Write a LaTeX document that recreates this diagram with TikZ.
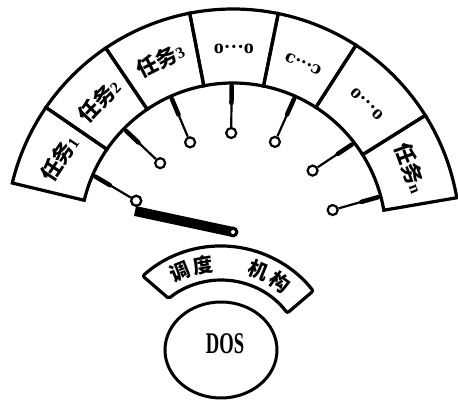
\documentclass[tikz,border=0pt]{standalone}
\usepackage{fontspec}
\setmainfont{Liberation Serif}
\newfontfamily\cjk{Noto Sans CJK SC}
\newfontfamily\dvs{DejaVu Serif}
\usetikzlibrary{calc,shapes.geometric}
\tikzset{
  boxline/.style={line width=3.2pt, line join=miter},
  wire/.style={line width=2.2pt},
  wirethick/.style={line width=4.5pt, line cap=round},
  contact/.style={circle, draw, line width=2.2pt, fill=white, minimum size=10pt, inner sep=0pt},
  tasklabel/.style={font=\fontsize{21}{21}\selectfont\cjk\bfseries, inner sep=0pt},
  dotlabel/.style={font=\fontsize{20}{20}\selectfont\bfseries, inner sep=0pt},
  bandlabel/.style={font=\fontsize{20}{20}\selectfont\cjk\bfseries, inner sep=0pt},
}
\newcommand{\tnum}[1]{{\fontsize{16}{16}\selectfont\rmfamily\bfseries #1}}
\begin{document}
\begin{tikzpicture}[x=1pt,y=1pt]
\useasboundingbox (0,0) rectangle (458,401);
\fill[white] (0,0) rectangle (458,401);
% ---------- upper task band ----------
\begin{scope}[shift={(233,165)}]
  \foreach \a/\b in {166.5/145.5, 145.5/124.1, 124.1/101, 101/78.5, 78.5/57.2, 57.2/32.1, 32.1/9.7}
    \draw[boxline] (\a:153) -- (\a:227) arc[start angle=\a, end angle=\b, radius=227]
      -- (\b:153) arc[start angle=\b, end angle=\a, radius=153] -- cycle;
  % labels
  \node[tasklabel, rotate=56] (t1) at (156:190) {任务\tnum{1}};
  \node[tasklabel, rotate=46] (t2) at (134.8:190) {任务\tnum{2}};
  \node[tasklabel, rotate=27] (t3) at (112.5:190) {任务\tnum{3}};
  \node[dotlabel, rotate=0] (t4) at (89.7:187) {o···o};
  \node[dotlabel, rotate=-23, font=\fontsize{17}{17}\selectfont\dvs\bfseries] (t5) at (67.8:186) {c···ɔ};
  \node[dotlabel, rotate=-44] (t6) at (44.7:188) {o···o};
  \node[tasklabel, rotate=-70] (tn) at (21:190) {任务\tnum{n}};
  % wire ends on the inner arc
  \coordinate (w1) at (156.5:153);
  \coordinate (w2) at (135.5:153);
  \coordinate (w3) at (114:153);
  \coordinate (w4) at (90.5:153);
  \coordinate (w5) at (66:153);
  \coordinate (w6) at (37.5:153);
  \coordinate (w7) at (15:153);
  % contacts
  \node[contact] (c1) at (160:103) {};
  \node[contact] (c2) at (135:103) {};
  \node[contact] (c3) at (114.6:103) {};
  \node[contact] (c4) at (91:103) {};
  \node[contact] (c5) at (66:103) {};
  \node[contact] (c6) at (39.4:103) {};
  \node[contact] (c7) at (14.6:103) {};
  \foreach \i in {1,...,7} {
    \draw[wire] (w\i) -- (c\i);
    \draw[wirethick] ($(w\i)!3pt!(c\i)$) -- ($(w\i)!20pt!(c\i)$);
  }
  % switch arm
  \coordinate (armend) at (-98,25);
  \coordinate (pivotc) at (0,4);
  \draw[line width=10pt] (armend) -- (pivotc);
  \fill (pivotc) circle (5.5pt);
  \node[circle, fill=white, minimum size=4pt, inner sep=0pt] (pivot) at (pivotc) {};
  \node[contact] at (c1) {};
\end{scope}
% ---------- scheduler band ----------
\begin{scope}[shift={(221,38)}]
  \draw[boxline, rounded corners=2pt] (132:117) arc[start angle=132, end angle=38, radius=117]
     -- (37:83) arc[start angle=37, end angle=129, radius=83] -- cycle;
  \node[bandlabel, rotate=22] (s1) at (114:100) {调};
  \node[bandlabel, rotate=10] (s2) at (100.6:100) {度};
  \node[bandlabel, rotate=-22] (s3) at (68:100) {机};
  \node[bandlabel, rotate=-36] (s4) at (54:100) {构};
\end{scope}
% ---------- DOS ----------
\node[ellipse, draw, line width=3pt, minimum width=112pt, minimum height=96pt, inner sep=0pt] (dos) at (221,51) {};
\node[font=\fontsize{30}{30}\selectfont\bfseries, xscale=0.62, inner sep=0pt] (dostext) at (225,57) {DOS};
\end{tikzpicture}
\end{document}
